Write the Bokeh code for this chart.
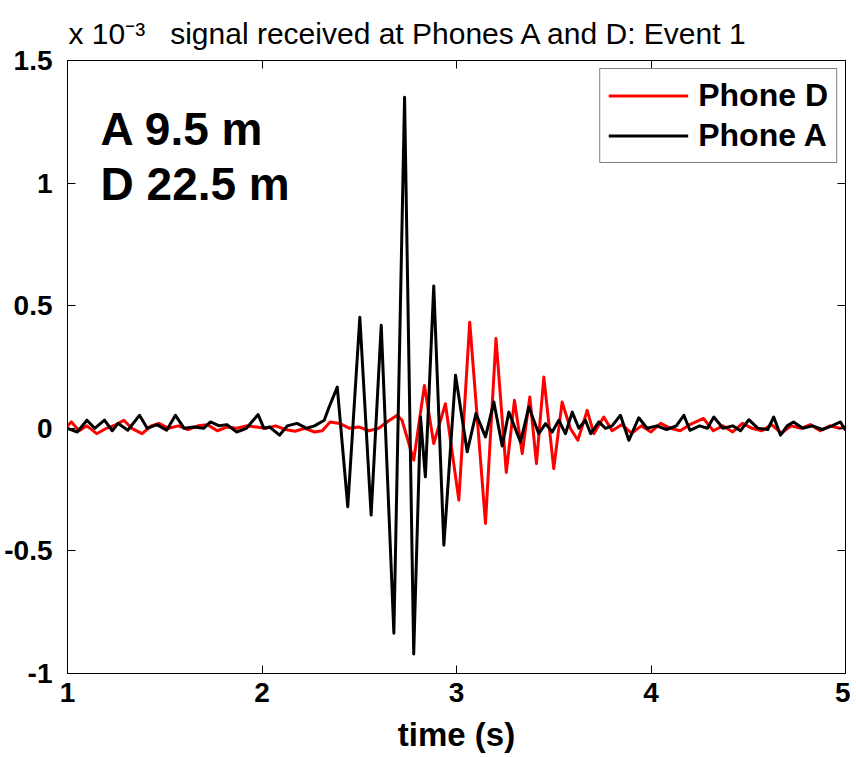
from bokeh.plotting import figure
from bokeh.models import Range1d, LinearAxis, Label, FixedTicker, Title
from bokeh.embed import file_html
from bokeh.resources import INLINE

# ---- data (amplitude in units of 1e-3) ----
t_phone_a = [1.00, 1.05, 1.10, 1.14, 1.19, 1.23, 1.26, 1.31, 1.37, 1.41, 1.46, 1.51, 1.555, 1.60,
             1.65, 1.70, 1.735, 1.78, 1.82, 1.87, 1.92, 1.98, 2.01, 2.04, 2.09, 2.13, 2.18, 2.23,
             2.27, 2.32, 2.345, 2.387, 2.441, 2.503, 2.561, 2.613, 2.678, 2.733, 2.78, 2.815,
             2.84, 2.883, 2.935, 2.995, 3.055, 3.10, 3.149, 3.192, 3.235, 3.269, 3.329, 3.372,
             3.423, 3.458, 3.492, 3.526, 3.56, 3.595, 3.629, 3.663, 3.69, 3.732, 3.766, 3.80,
             3.843, 3.886, 3.937, 3.98, 4.03, 4.08, 4.13, 4.169, 4.20, 4.25, 4.29, 4.323, 4.37,
             4.42, 4.46, 4.503, 4.55, 4.60, 4.631, 4.666, 4.70, 4.733, 4.78, 4.83, 4.88, 4.93,
             4.974, 5.00]
v_phone_a = [0.0, -0.015, 0.033, 0.0, 0.033, -0.01, 0.02, -0.008, 0.053, 0.0, 0.015, -0.008, 0.053,
             0.0, 0.005, 0.0, 0.026, 0.01, 0.015, -0.015, 0.0, 0.056, 0.0, 0.005, -0.028, 0.01,
             0.02, 0.0, 0.01, 0.033, 0.087, 0.168, -0.32, 0.453, -0.354, 0.42, -0.836, 1.35,
             -0.92, 0.046, -0.198, 0.58, -0.477, 0.216, -0.096, 0.06, -0.035, 0.107, -0.072,
             0.066, -0.056, 0.087, -0.022, 0.019, -0.015, 0.033, -0.022, 0.066, 0.0, 0.033,
             -0.022, 0.026, 0.0, 0.01, 0.053, -0.049, 0.043, 0.0, 0.01, -0.005, 0.01, 0.053,
             -0.008, 0.01, 0.0, 0.046, 0.0, 0.01, -0.01, 0.035, 0.0, -0.005, 0.046, -0.028,
             0.01, 0.026, 0.0, 0.01, -0.005, 0.01, 0.026, -0.008]

t_phone_d = [1.00, 1.02, 1.06, 1.10, 1.15, 1.20, 1.25, 1.29, 1.33, 1.384, 1.43, 1.47, 1.52, 1.57,
             1.62, 1.67, 1.72, 1.77, 1.82, 1.87, 1.92, 1.97, 2.02, 2.07, 2.12, 2.17, 2.22, 2.27,
             2.31, 2.35, 2.40, 2.45, 2.50, 2.55, 2.60, 2.65, 2.695, 2.72, 2.78, 2.835, 2.883,
             2.943, 3.012, 3.068, 3.149, 3.203, 3.256, 3.298, 3.338, 3.377, 3.411, 3.449, 3.50,
             3.543, 3.585, 3.624, 3.672, 3.706, 3.757, 3.80, 3.85, 3.90, 3.95, 4.00, 4.05, 4.10,
             4.15, 4.20, 4.27, 4.32, 4.37, 4.42, 4.47, 4.52, 4.57, 4.62, 4.67, 4.72, 4.77, 4.82,
             4.87, 4.92, 4.97, 5.00]
v_phone_d = [0.01, 0.026, -0.01, 0.01, -0.022, 0.0, 0.015, 0.033, 0.0, -0.022, 0.01, 0.02, 0.0,
             0.01, -0.005, 0.01, 0.015, -0.01, 0.005, 0.0, 0.01, 0.005, 0.0, 0.01, -0.005,
             -0.012, 0.0, -0.015, -0.01, 0.026, 0.02, 0.0, 0.005, -0.01, 0.0, 0.03, 0.053, 0.033,
             -0.13, 0.175, -0.062, 0.10, -0.293, 0.433, -0.388, 0.366, -0.18, 0.114, -0.103,
             0.128, -0.144, 0.209, -0.164, 0.107, 0.0, -0.049, 0.073, -0.022, 0.046, -0.01,
             0.015, -0.02, 0.01, -0.015, 0.02, 0.0, -0.01, 0.015, 0.04, -0.01, 0.01, -0.015,
             0.02, 0.0, -0.01, 0.015, -0.02, 0.01, 0.0, 0.015, -0.01, 0.01, 0.0, 0.005]

x_ticks = [1, 2, 3, 4, 5]
x_tick_labels = ["1", "2", "3", "4", "5"]
y_ticks = [-1, -0.5, 0, 0.5, 1, 1.5]
y_tick_labels = ["-1", "-0.5", "0", "0.5", "1", "1.5"]

FONT = "Liberation Sans"
NB = "\u00a0"

p = figure(width=850, height=755, output_backend="svg", toolbar_location=None,
           x_range=Range1d(1, 5), y_range=Range1d(-1, 1.5), title=None,
           min_border_left=67, min_border_right=5, min_border_top=60, min_border_bottom=82)
p.grid.visible = False
p.outline_line_color = "black"
p.background_fill_color = "white"
p.border_fill_color = "white"

p.line(t_phone_d, v_phone_d, color="#ff0000", line_width=3, line_join="round",
       legend_label="Phone D")
p.line(t_phone_a, v_phone_a, color="black", line_width=3, line_join="round",
       legend_label="Phone A")


def style_axis(ax, ticks, labels, show_labels=True):
    ax.ticker = FixedTicker(ticks=ticks)
    ax.major_tick_in = 8
    ax.major_tick_out = 0
    ax.minor_tick_in = 0
    ax.minor_tick_out = 0
    ax.axis_line_color = "black"
    ax.major_tick_line_color = "black"
    if show_labels:
        ax.major_label_overrides = dict(zip(ticks, labels))
        ax.major_label_text_font = FONT
        ax.major_label_text_font_style = "bold"
        ax.major_label_text_font_size = "28px"
        ax.major_label_text_color = "black"
    else:
        ax.major_label_text_font_size = "1px"
        ax.major_label_text_color = None
        ax.major_label_standoff = 0


style_axis(p.xaxis[0], x_ticks, x_tick_labels)
p.xaxis[0].major_label_standoff = 9
p.xaxis[0].axis_label = "time (s)"
p.xaxis[0].axis_label_text_font = FONT
p.xaxis[0].axis_label_text_font_style = "bold"
p.xaxis[0].axis_label_text_font_size = "33px"
p.xaxis[0].axis_label_text_color = "black"
p.xaxis[0].axis_label_standoff = 11

style_axis(p.yaxis[0], y_ticks, y_tick_labels)
p.yaxis[0].major_label_standoff = 15

top_ax = LinearAxis()
style_axis(top_ax, x_ticks, x_tick_labels, show_labels=False)
p.add_layout(top_ax, "above")
right_ax = LinearAxis()
style_axis(right_ax, y_ticks, y_tick_labels, show_labels=False)
p.add_layout(right_ax, "right")

# title line with the axis exponent
p.add_layout(Title(text="x 10\u207b\u00b3" + NB * 3 + "signal received at Phones A and D: Event 1",
                   align="left", offset=1, standoff=21, text_font=FONT,
                   text_font_size="30px", text_font_style="normal", text_color="black"),
             "above")

# distance annotations
p.add_layout(Label(x=1.17, y=1.222, text="A 9.5 m", text_font=FONT, text_font_size="46px",
                   text_font_style="bold", text_baseline="alphabetic", text_color="black"))
p.add_layout(Label(x=1.17, y=0.998, text="D 22.5 m", text_font=FONT, text_font_size="46px",
                   text_font_style="bold", text_baseline="alphabetic", text_color="black"))

lg = p.legend[0]
lg.location = "top_right"
lg.margin = 8
lg.padding = 8
lg.spacing = 3
lg.glyph_width = 80
lg.glyph_height = 37
lg.label_height = 37
lg.label_standoff = 10
lg.label_text_font = FONT
lg.label_text_font_style = "bold"
lg.label_text_font_size = "32px"
lg.label_text_color = "black"
lg.border_line_color = "black"
lg.border_line_width = 1
lg.background_fill_alpha = 1.0

open("out.html", "w").write(file_html(p, INLINE))
